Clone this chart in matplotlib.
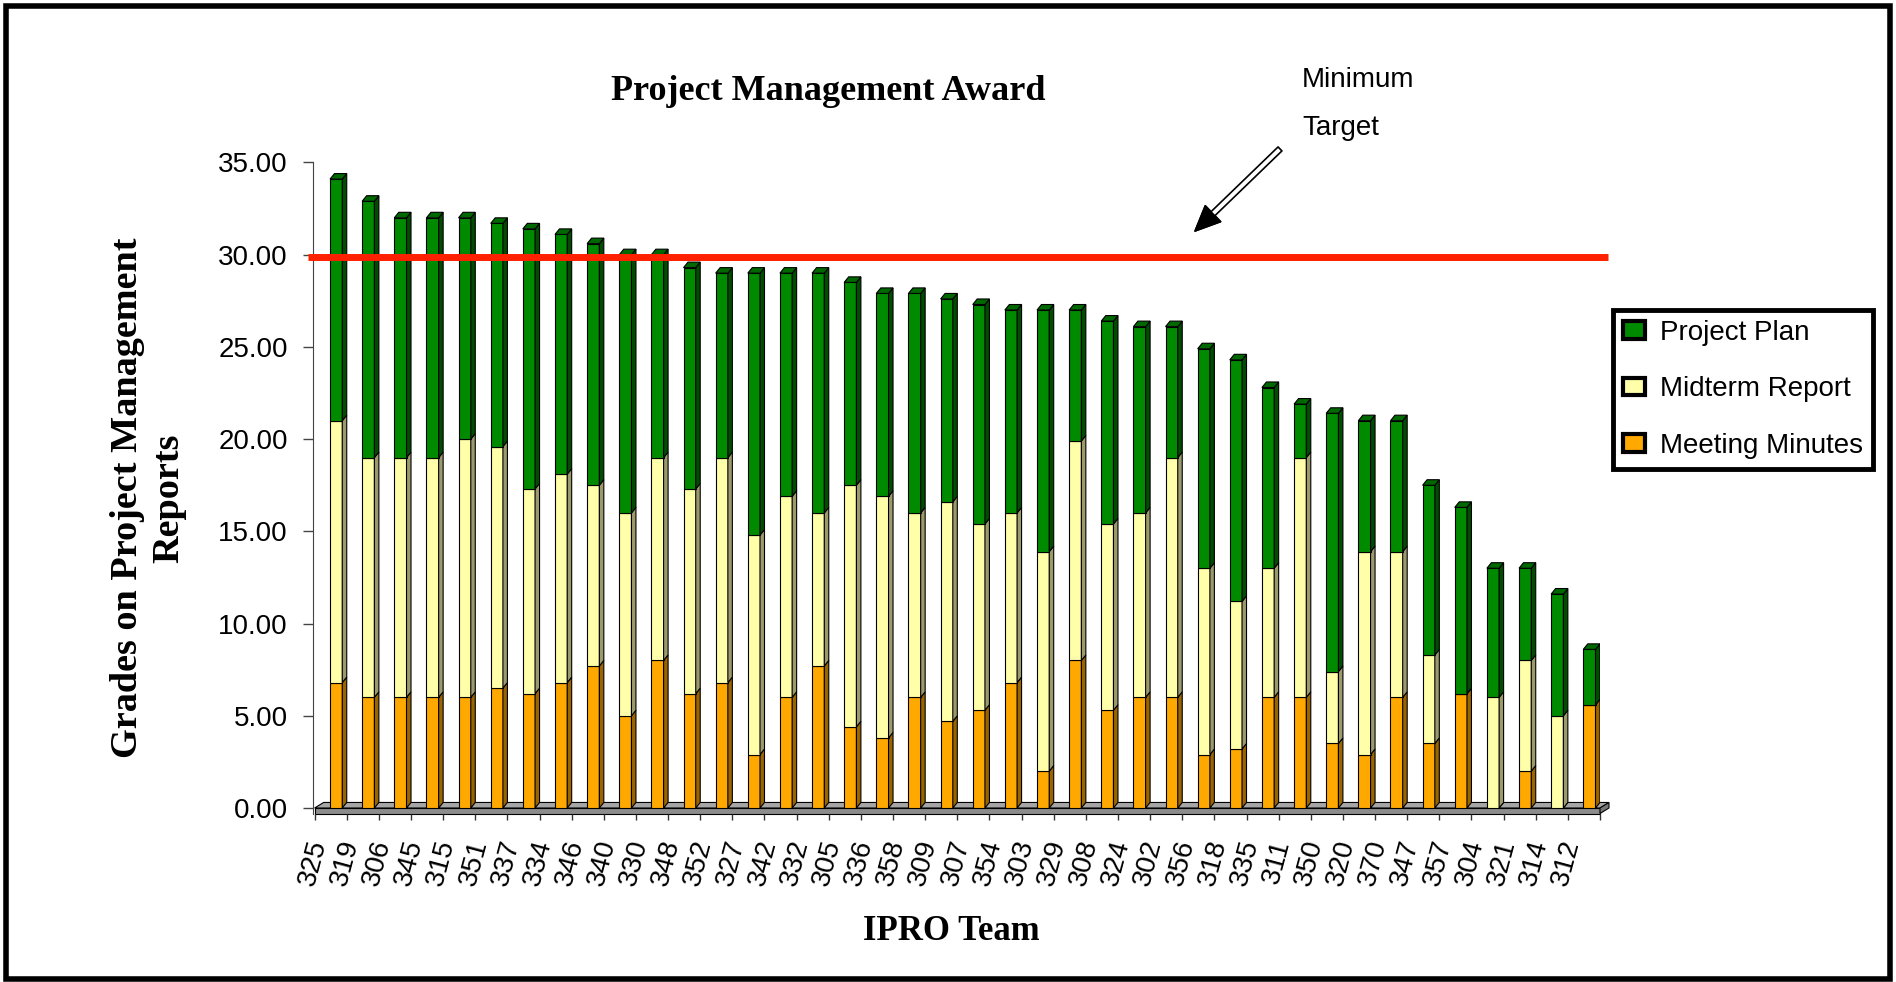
import numpy as np
import matplotlib
matplotlib.use("Agg")
import matplotlib.pyplot as plt
from matplotlib.patches import Polygon, Rectangle, Patch, FancyArrowPatch

# data
teams = ['325', '319', '306', '345', '315', '351', '337', '334', '346', '340',
         '330', '348', '352', '327', '342', '332', '305', '336', '358', '309',
         '307', '354', '303', '329', '308', '324', '302', '356', '318', '335',
         '311', '350', '320', '370', '347', '357', '304', '321', '314', '312']
meeting_minutes = [6.8, 6.0, 6.0, 6.0, 6.0, 6.5, 6.2, 6.8, 7.7, 5.0,
                   8.0, 6.2, 6.8, 2.9, 6.0, 7.7, 4.4, 3.8, 6.0, 4.7,
                   5.3, 6.8, 2.0, 8.0, 5.3, 6.0, 6.0, 2.9, 3.2, 6.0,
                   6.0, 3.5, 2.9, 6.0, 3.5, 6.2, 0.0, 2.0, 0.0, 5.6]
midterm_report = [14.2, 13.0, 13.0, 13.0, 14.0, 13.1, 11.1, 11.3, 9.8, 11.0,
                  11.0, 11.1, 12.2, 11.9, 10.9, 8.3, 13.1, 13.1, 10.0, 11.9,
                  10.1, 9.2, 11.9, 11.9, 10.1, 10.0, 13.0, 10.1, 8.0, 7.0,
                  13.0, 3.9, 11.0, 7.9, 4.8, 0.0, 6.0, 6.0, 5.0, 0.0]
project_plan = [13.1, 13.9, 13.0, 13.0, 12.0, 12.1, 14.1, 13.0, 13.1, 14.0,
                11.0, 12.0, 10.0, 14.2, 12.1, 13.0, 11.0, 11.0, 11.9, 11.0,
                11.9, 11.0, 13.1, 7.1, 11.0, 10.1, 7.1, 11.9, 13.1, 9.8,
                2.9, 14.0, 7.1, 7.1, 9.2, 10.1, 7.0, 5.0, 6.6, 3.0]
min_target = 29.85

# (front, side, top) colours
styles = {
    'Meeting Minutes': ('#FFA800', '#9A6400', '#CC8800'),
    'Midterm Report': ('#FFFFAA', '#9C9A6C', '#D6D690'),
    'Project Plan': ('#008A00', '#004C00', '#006800'),
}
series = [('Meeting Minutes', meeting_minutes),
          ('Midterm Report', midterm_report),
          ('Project Plan', project_plan)]

W, H = 1896, 982
fig = plt.figure(figsize=(W / 100, H / 100), dpi=100)
ax = fig.add_axes([313 / W, 174 / H, 1287 / W, 645.5 / H])
ax.set_xlim(0, 40)
ax.set_ylim(0, 35)

n = len(teams)
x = np.arange(n)
front_w = 0.38
dx, dy = 0.14, 0.3

# floor of the 3d chart
ax.add_patch(Polygon([(0, -0.3), (40, -0.3), (40, 0), (0, 0)], closed=True,
                     fc='#8c8c8c', ec='black', lw=0.8, clip_on=False, zorder=1))
ax.add_patch(Polygon([(0, 0), (40, 0), (40 + dx * 2, 0.3), (dx * 2, 0.3)], closed=True,
                     fc='#a6a6a6', ec='black', lw=0.8, clip_on=False, zorder=1))
ax.add_patch(Polygon([(40, -0.3), (40 + dx * 2, 0), (40 + dx * 2, 0.3), (40, 0)], closed=True,
                     fc='#777777', ec='black', lw=0.8, clip_on=False, zorder=1))

bottom = np.zeros(n)
for name, vals in series:
    front, side, top = styles[name]
    bars = ax.bar(x + 0.48, vals, width=front_w, bottom=bottom, align='edge',
                  color=front, edgecolor='black', linewidth=0.8, zorder=3)
    for r in bars:
        xr = r.get_x() + r.get_width()
        b = r.get_y()
        t = b + r.get_height()
        ax.add_patch(Polygon([(xr, b), (xr + dx, b + dy), (xr + dx, t + dy), (xr, t)],
                             closed=True, fc=side, ec='black', lw=0.8, zorder=3))
    bottom = bottom + np.array(vals)

# top caps
cap_col = styles['Project Plan'][2]
for r in bars:
    x0 = r.get_x()
    xr = x0 + r.get_width()
    t = r.get_y() + r.get_height()
    ax.add_patch(Polygon([(x0, t), (xr, t), (xr + dx, t + dy), (x0 + dx, t + dy)],
                         closed=True, fc=cap_col, ec='black', lw=0.8, zorder=3))

# minimum target line
ax.plot([-0.2, 40.25], [min_target, min_target], color='#FF2000', lw=5,
        solid_capstyle='butt', clip_on=False, zorder=6)

# axes styling
for s in ['top', 'right', 'bottom']:
    ax.spines[s].set_visible(False)
ax.spines['left'].set_color('#444444')
ax.spines['left'].set_bounds(-0.3, 35)
ax.set_yticks(np.arange(0, 36, 5))
ax.set_yticklabels(['%.2f' % v for v in np.arange(0, 36, 5)],
                   fontsize=20, family='Liberation Sans')
ax.tick_params(axis='y', direction='out', length=7, width=1, color='#444444', pad=11)

ax.set_xticks(x - 0.05)
ax.set_xticklabels(teams, rotation=75, fontsize=20, family='Liberation Sans')
ax.tick_params(axis='x', length=0, pad=21)
ax.vlines(np.arange(n + 1), -0.65, -0.3, colors='#333333', lw=1, clip_on=False)

# titles
fig.text(828 / W, 1 - 92 / H, 'Project Management Award', ha='center', va='center',
         fontsize=26, fontweight='bold', family='Liberation Serif')
fig.text(148 / W, 1 - 498 / H, 'Grades on Project Management\nReports', rotation=90,
         ha='center', va='center', multialignment='center', linespacing=1.25,
         fontsize=27.5, fontweight='bold', family='Liberation Serif')
fig.text(951 / W, 1 - 932 / H, 'IPRO Team', ha='center', va='center',
         fontsize=25, fontweight='bold', family='Liberation Serif')

# annotation
fig.text(1302 / W, 1 - 80 / H, 'Minimum', ha='left', va='center', fontsize=20,
         family='Liberation Sans')
fig.text(1302 / W, 1 - 128 / H, 'Target', ha='left', va='center', fontsize=20,
         family='Liberation Sans')
tail = np.array([1282 / W, 1 - 147 / H])
tip = np.array([1193 / W, 1 - 233 / H])
fig.add_artist(FancyArrowPatch(tail, tip, transform=fig.transFigure,
                               arrowstyle='simple,head_length=18,head_width=16,tail_width=4',
                               fc='white', ec='black', lw=1.2))
d = np.array([(tip[0] - tail[0]) * W, (tip[1] - tail[1]) * H])
d = d / np.hypot(*d)
hbase = tip - np.array([d[0] * 22 / W, d[1] * 22 / H])
fig.add_artist(FancyArrowPatch(hbase, tip, transform=fig.transFigure,
                               arrowstyle='simple,head_length=18,head_width=16,tail_width=0.5',
                               fc='black', ec='black', lw=1))

# legend
handles = [Patch(fc=styles[k][0], ec='black', lw=3) for k in
           ['Project Plan', 'Midterm Report', 'Meeting Minutes']]
leg = fig.legend(handles, ['Project Plan', 'Midterm Report', 'Meeting Minutes'],
                 loc='upper left', bbox_to_anchor=(1613 / W, 1 - 310 / H),
                 fancybox=False, framealpha=1, edgecolor='black',
                 prop={'family': 'Liberation Sans', 'size': 20},
                 handlelength=0.8, handleheight=0.6, labelspacing=1.1,
                 borderpad=0.35, handletextpad=0.55, borderaxespad=0)
leg.get_frame().set_linewidth(3.5)

# outer frame
fig.add_artist(Rectangle((6 / W, 3 / H), 1884 / W, 973 / H, transform=fig.transFigure,
                         fill=False, ec='black', lw=4))

fig.savefig('out.png', dpi=100)
